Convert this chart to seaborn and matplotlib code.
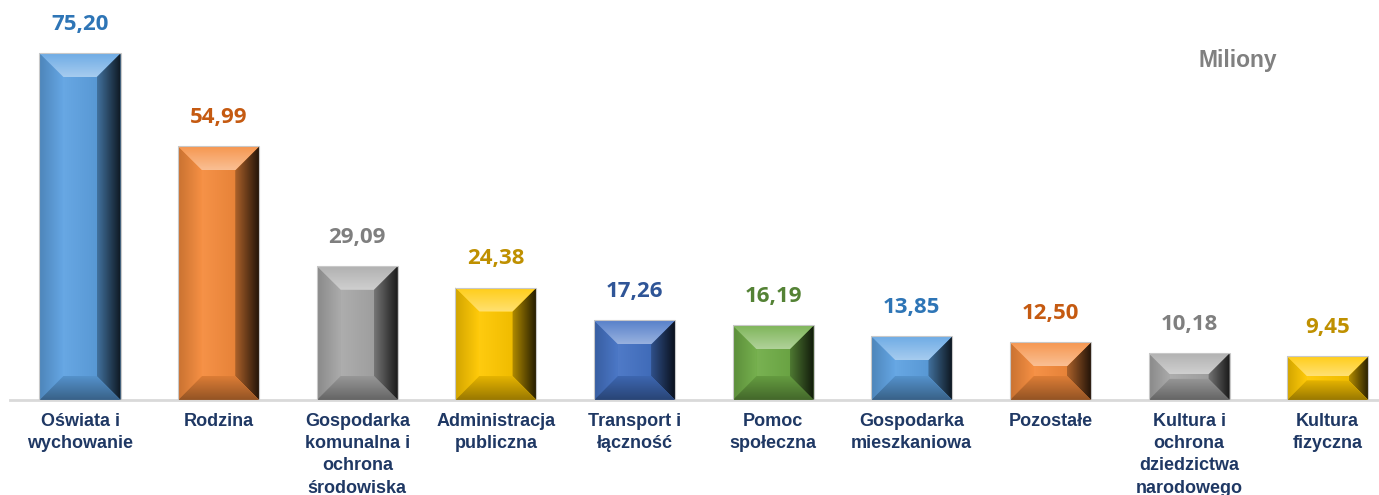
import numpy as np
import pandas as pd
import matplotlib
matplotlib.use("Agg")
import matplotlib.pyplot as plt
import matplotlib.colors as mc
from matplotlib.patches import Polygon
import seaborn as sns

categories = ["Oświata i\nwychowanie", "Rodzina",
              "Gospodarka\nkomunalna i\nochrona\nśrodowiska",
              "Administracja\npubliczna", "Transport i\nłączność",
              "Pomoc\nspołeczna", "Gospodarka\nmieszkaniowa", "Pozostałe",
              "Kultura i\nochrona\ndziedzictwa\nnarodowego", "Kultura\nfizyczna"]
values = [75.20, 54.99, 29.09, 24.38, 17.26, 16.19, 13.85, 12.50, 10.18, 9.45]
bar_colors = ["#5ea2e2", "#f58b3c", "#a8a8a8", "#ffc800", "#4472c4",
              "#70ad47", "#5ea2e2", "#f58b3c", "#a8a8a8", "#ffc800"]
label_colors = ["#2e75b6", "#c55a11", "#7f7f7f", "#bf9000", "#2f5597",
                "#548235", "#2e75b6", "#c55a11", "#7f7f7f", "#bf9000"]
unit_label = "Miliony"

W, H = 1379, 495
fig = plt.figure(figsize=(W / 100, H / 100), dpi=100)
sns.set_style("white")
ax = fig.add_axes([10 / W, 95 / H, 1369 / W, 400 / H])

df = pd.DataFrame({"cat": categories, "val": values})
sns.barplot(data=df, x="cat", y="val", hue="cat", palette=bar_colors,
            legend=False, width=0.585, saturation=1, ax=ax, zorder=2)
ax.set_xlim(-0.505, 9.37)
ax.set_ylim(0, 86.7)
ax.set_xlabel("")
ax.set_ylabel("")
ax.set_yticks([])
for s in ["top", "right", "left"]:
    ax.spines[s].set_visible(False)
ax.spines["bottom"].set_color("#d9d9d9")
ax.spines["bottom"].set_linewidth(2)
ax.tick_params(axis="x", length=0, pad=9)
ax.set_xticks(range(len(categories)))
ax.set_xticklabels(categories, fontsize=13, fontweight="bold", color="#1f3864",
                   family=["Liberation Sans", "DejaVu Sans"], linespacing=1.42)


def lighten(c, f):
    r = np.array(mc.to_rgb(c))
    return tuple(r + (1 - r) * f)


def darken(c, f):
    r = np.array(mc.to_rgb(c))
    return tuple(r * (1 - f))


def grad_fill(pts, c1, c2, horizontal=True):
    pts = np.array(pts)
    x0, x1 = pts[:, 0].min(), pts[:, 0].max()
    y0, y1 = pts[:, 1].min(), pts[:, 1].max()
    n = 64
    t = np.linspace(0, 1, n)
    a, b = np.array(mc.to_rgb(c1)), np.array(mc.to_rgb(c2))
    cols = a[None, :] * (1 - t[:, None]) + b[None, :] * t[:, None]
    if horizontal:
        img = cols[None, :, :]
    else:
        img = cols[::-1][:, None, :]  # c1 at bottom, c2 at top
    im = ax.imshow(img, extent=[x0, x1, y0, y1], aspect="auto",
                   interpolation="bilinear", zorder=3, origin="upper")
    poly = Polygon(pts, closed=True, transform=ax.transData)
    im.set_clip_path(poly)


# pixel -> data scale
fig.canvas.draw()
px_x = 1 / (ax.transData.transform((1, 0))[0] - ax.transData.transform((0, 0))[0])
px_y = 1 / (ax.transData.transform((0, 1))[1] - ax.transData.transform((0, 0))[1])

for p, col in zip(ax.patches, bar_colors):
    x0, w, h = p.get_x(), p.get_width(), p.get_height()
    x1 = x0 + w
    h_px = h / px_y
    d = min(24, h_px * 0.45)
    dx, dy = d * px_x, d * px_y
    # face
    face = [(x0 + dx, dy), (x1 - dx, dy), (x1 - dx, h - dy), (x0 + dx, h - dy)]
    grad_fill(face, lighten(col, 0.06), darken(col, 0.06), horizontal=True)
    # left
    left = [(x0, 0), (x0 + dx, dy), (x0 + dx, h - dy), (x0, h)]
    grad_fill(left, darken(col, 0.18), lighten(col, 0.04), horizontal=True)
    # right
    right = [(x1, 0), (x1, h), (x1 - dx, h - dy), (x1 - dx, dy)]
    grad_fill(right, darken(col, 0.3), darken(col, 0.85), horizontal=True)
    # bottom
    bottom = [(x0, 0), (x1, 0), (x1 - dx, dy), (x0 + dx, dy)]
    grad_fill(bottom, darken(col, 0.4), darken(col, 0.1), horizontal=False)
    # top
    top = [(x0, h), (x1, h), (x1 - dx, h - dy), (x0 + dx, h - dy)]
    grad_fill(top, lighten(col, 0.45), lighten(col, 0.1), horizontal=False)
    ax.add_patch(Polygon([(x0, 0), (x1, 0), (x1, h), (x0, h)], closed=True,
                         fill=False, edgecolor="#c8c8c8", lw=0.8, zorder=4))

ax.set_xlim(-0.505, 9.37)
ax.set_ylim(0, 86.7)

for i, (v, lc) in enumerate(zip(values, label_colors)):
    ax.annotate(f"{v:.2f}".replace(".", ","), xy=(i, v), xytext=(0, 13),
                textcoords="offset points", ha="center", va="bottom",
                fontsize=16, fontweight="bold", color=lc,
                family=["Open Sans", "DejaVu Sans"], zorder=5)

fig.text(1238 / W, 1 - 60 / H, unit_label, ha="center", va="center",
         fontsize=16.5, fontweight="bold", color="#808080",
         family=["Liberation Sans", "DejaVu Sans"])

fig.savefig("out.png", dpi=100)
